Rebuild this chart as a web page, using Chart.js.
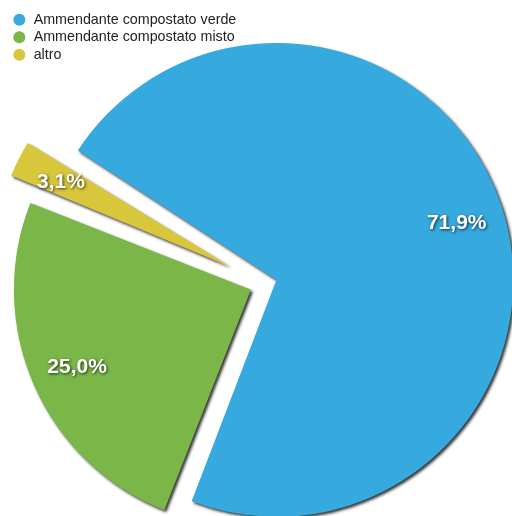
<!DOCTYPE html>
<html>
<head>
<meta charset="utf-8">
<script src="https://cdn.jsdelivr.net/npm/chart.js@4"></script>
<style>
  html, body { margin: 0; padding: 0; background: #fff; }
  #wrap { width: 512px; height: 516px; overflow: hidden; position: relative; }
  canvas { display: block; }
</style>
</head>
<body>
<div id="wrap"><canvas id="c" width="519" height="559"></canvas></div>
<script>
// Composition of the compost output (percent shares)
const categories = ['Ammendante compostato verde', 'Ammendante compostato misto', 'altro'];
const shares = [71.9, 25.0, 3.1];
const sliceColors = ['#36a9df', '#7ab648', '#d9c73b'];
const pullOut = [52, 57, 153];

const PIE_RADIUS = 237;
const FONT = '"Liberation Sans", Arial, Helvetica, sans-serif';
const LABEL_SIZE = 21;

const fmtPct = v => v.toFixed(1).replace('.', ',') + '%';

// Chart.js widens narrow exploded wedges; keep every rim on the same circle instead.
const evenRim = {
  id: 'evenRim',
  afterDatasetsUpdate(chart) {
    chart.getDatasetMeta(0).data.forEach(arc => {
      const off = ((arc.options && arc.options.offset) || 0) / 4;
      const fix = 1 - Math.sin(Math.min(Math.PI, arc.circumference));
      arc.outerRadius = PIE_RADIUS - off * fix;
    });
  }
};

// Drop shadow under the wedges
const sliceShadow = {
  id: 'sliceShadow',
  beforeDatasetsDraw(chart) {
    const ctx = chart.ctx;
    ctx.save();
    ctx.shadowColor = 'rgba(0,0,0,0.8)';
    ctx.shadowBlur = 3;
    ctx.shadowOffsetX = 2;
    ctx.shadowOffsetY = 2;
  },
  afterDatasetsDraw(chart) {
    chart.ctx.restore();
  }
};

// White percentage labels inside each wedge
const pctLabels = {
  id: 'pctLabels',
  afterDatasetsDraw(chart) {
    const ctx = chart.ctx;
    const meta = chart.getDatasetMeta(0);
    ctx.save();
    ctx.font = 'bold ' + LABEL_SIZE + 'px ' + FONT;
    ctx.textAlign = 'center';
    ctx.textBaseline = 'alphabetic';
    ctx.fillStyle = '#ffffff';
    ctx.shadowColor = 'rgba(0,0,0,0.75)';
    ctx.shadowBlur = 3;
    ctx.shadowOffsetX = 1;
    ctx.shadowOffsetY = 1;
    meta.data.forEach((arc, i) => {
      const mid = (arc.startAngle + arc.endAngle) / 2;
      const d = ((arc.options && arc.options.offset) || 0) / 4 + PIE_RADIUS * 0.8;
      const x = arc.x + Math.cos(mid) * d;
      const y = arc.y + Math.sin(mid) * d + LABEL_SIZE * 0.38;
      ctx.fillText(fmtPct(shares[i]), x, y);
    });
    ctx.restore();
  }
};

new Chart(document.getElementById('c'), {
  type: 'pie',
  data: {
    labels: categories,
    datasets: [{
      data: shares,
      backgroundColor: sliceColors,
      offset: pullOut,
      borderWidth: 0
    }]
  },
  options: {
    responsive: false,
    animation: false,
    events: [],
    rotation: -57.4,
    radius: PIE_RADIUS,
    layout: { padding: { left: 9, top: 9, right: 0, bottom: 0 } },
    plugins: {
      legend: {
        position: 'chartArea',
        align: 'start',
        title: {
          display: true,
          text: '',
          font: { family: FONT, size: 6, lineHeight: 1 },
          padding: { top: 3.5, bottom: 0 }
        },
        labels: {
          usePointStyle: true,
          pointStyle: 'circle',
          boxWidth: 14.3,
          boxHeight: 8.5,
          padding: 3.2,
          color: '#222222',
          font: { family: FONT, size: 14.3 }
        }
      },
      tooltip: { enabled: false }
    }
  },
  plugins: [evenRim, sliceShadow, pctLabels]
});
</script>
</body>
</html>
